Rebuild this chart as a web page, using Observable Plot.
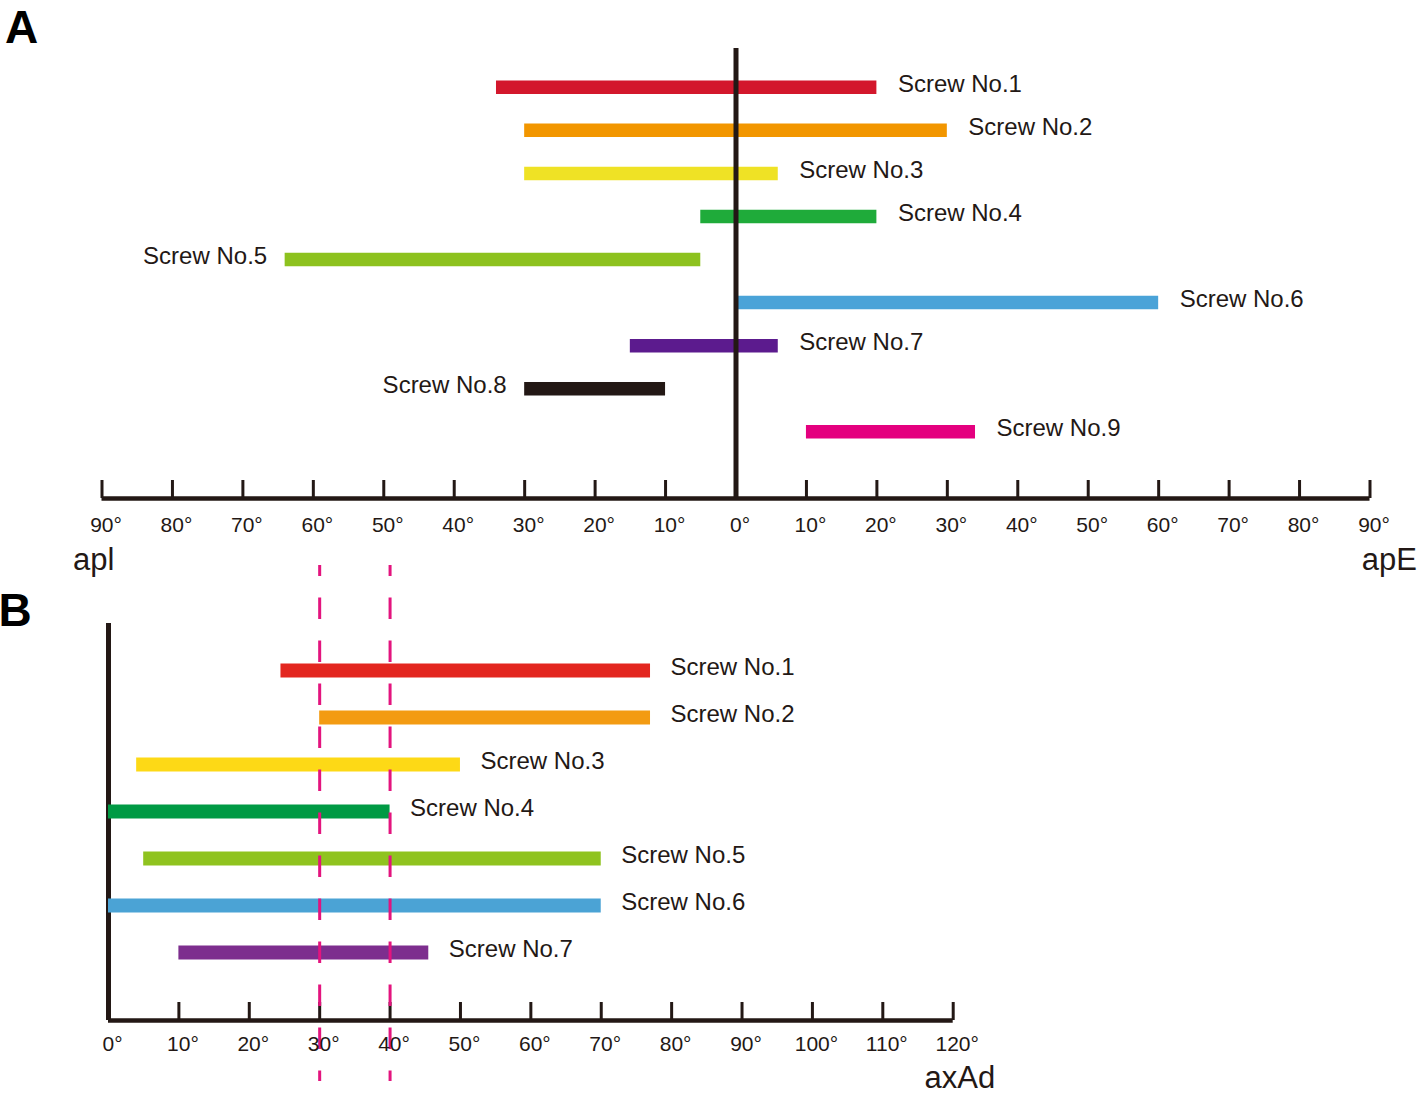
<!DOCTYPE html>
<html><head><meta charset="utf-8">
<script src="https://cdn.jsdelivr.net/npm/d3@7"></script>
<script src="https://cdn.jsdelivr.net/npm/@observablehq/plot@0.6"></script>
<style>
html,body{margin:0;padding:0;background:#fff;}
#wrap{position:relative;width:1418px;height:1093px;overflow:hidden;background:#fff;}
#wrap svg{position:absolute;left:0;}
</style></head><body><div id="wrap"></div>
<script>
// ---------- Panel A data (apl negative, apE positive, degrees) ----------
const screwsA = ["Screw No.1","Screw No.2","Screw No.3","Screw No.4","Screw No.5","Screw No.6","Screw No.7","Screw No.8","Screw No.9"];
const startA = [-34, -30, -30, -5, -64, 0, -15, -30, 10];
const endA   = [ 20,  30,   6, 20,  -5, 60,   6, -10, 34];
const leftLabelledA = ["Screw No.5", "Screw No.8"];
const ticksA = d3.range(-90, 91, 10);
const paletteA = ["#d3172c","#f29600","#efe225","#1fab3a","#8dc21f","#4aa3d8","#5c1b8e","#231815","#e4007f"];

// ---------- Panel B data (axAd, degrees) ----------
const screwsB = ["Screw No.1","Screw No.2","Screw No.3","Screw No.4","Screw No.5","Screw No.6","Screw No.7"];
const startB = [24.5, 30,  4,  0,  5,  0, 10];
const endB   = [77,   77, 50, 40, 70, 70, 45.5];
const ticksB = d3.range(0, 121, 10);
const refLinesB = [30, 40];
const paletteB = ["#e3261f","#f39b12","#fdd916","#009a44","#8fc31f","#4ba3d5","#7d2e8e"];

const ink = "#231815";
const font = "'Liberation Sans', Arial, Helvetica, sans-serif";
const wrap = document.getElementById("wrap");

// ---------- Panel A ----------
const rowsA = screwsA.map((name, i) => ({name, row: i + 1, start: startA[i], end: endA[i], left: leftLabelledA.includes(name)}));
const yDomA = [0.1, 10.55];
const frameHA = 580 - 48 - 82;

const plotA = Plot.plot({
  width: 1418, height: 580,
  marginLeft: 101.5, marginRight: 48.5, marginTop: 48, marginBottom: 82,
  style: {fontFamily: font, background: "transparent", overflow: "visible", color: ink},
  x: {domain: [-90, 90], axis: null},
  y: {domain: yDomA, reverse: true, axis: null},
  color: {domain: screwsA, range: paletteA},
  marks: [
    Plot.ruleY(rowsA, {y: "row", x1: "start", x2: "end", stroke: "name", strokeWidth: 13.5}),
    Plot.ruleX([0], {stroke: ink, strokeWidth: 5}),
    Plot.ruleY([yDomA[1]], {stroke: ink, strokeWidth: 4.5}),
    Plot.ruleX(ticksA, {x: d => d, stroke: ink, strokeWidth: 3, insetTop: frameHA - 18}),
    Plot.text(rowsA.filter(d => !d.left), {x: "end", y: "row", text: "name", textAnchor: "start", dx: 21, dy: -3, fontSize: 24, fill: ink}),
    Plot.text(rowsA.filter(d => d.left), {x: "start", y: "row", text: "name", textAnchor: "end", dx: -18, dy: -3, fontSize: 24, fill: ink}),
    Plot.axisX({ticks: ticksA, tickFormat: d => Math.abs(d) + "°", tickSize: 0, tickPadding: 19, fontSize: 21, dx: 4, fill: ink, label: null}),
    Plot.text(["apl"], {text: d => d, frameAnchor: "bottom-left", dx: -29, dy: 71, textAnchor: "start", lineAnchor: "bottom", fontSize: 31, fill: ink}),
    Plot.text(["apE"], {text: d => d, frameAnchor: "bottom-right", dx: 47, dy: 71, textAnchor: "end", lineAnchor: "bottom", fontSize: 31, fill: ink}),
    Plot.text(["A"], {text: d => d, frameAnchor: "top-left", dx: -97, dy: -6, textAnchor: "start", lineAnchor: "bottom", fontSize: 46, fontWeight: "bold", fill: "#000"})
  ]
});
plotA.style.top = "0px";
wrap.appendChild(plotA);

// ---------- Panel B ----------
const rowsB = screwsB.map((name, i) => ({name, row: i + 1, start: startB[i], end: endB[i]}));
const frameHB = 548 - 78 - 73;
const yDomB = [0, frameHB / 47];

const plotB = Plot.plot({
  width: 1418, height: 548,
  marginLeft: 108, marginRight: 465.3, marginTop: 78, marginBottom: 73,
  style: {fontFamily: font, background: "transparent", overflow: "visible", color: ink},
  x: {domain: [0, 120], axis: null},
  y: {domain: yDomB, reverse: true, axis: null},
  color: {domain: screwsB, range: paletteB},
  marks: [
    Plot.ruleX([0], {stroke: ink, strokeWidth: 5}),
    Plot.ruleY([yDomB[1]], {stroke: ink, strokeWidth: 4.5}),
    Plot.ruleX(ticksB, {x: d => d, stroke: ink, strokeWidth: 3, insetTop: frameHB - 18}),
    Plot.ruleY(rowsB, {y: "row", x1: "start", x2: "end", stroke: "name", strokeWidth: 14}),
    Plot.ruleX(refLinesB, {x: d => d, stroke: "#e3147e", strokeWidth: 3, strokeDasharray: "21.5,21.5", strokeDashoffset: 10.5, insetTop: -58, insetBottom: -61}),
    Plot.text(rowsB, {x: "end", y: "row", text: "name", textAnchor: "start", dx: 20, dy: -3, fontSize: 24, fill: ink}),
    Plot.axisX({ticks: ticksB, tickFormat: d => d + "°", tickSize: 0, tickPadding: 16, fontSize: 21, dx: 4, fill: ink, label: null}),
    Plot.text(["axAd"], {text: d => d, frameAnchor: "bottom-right", dx: 42, dy: 67, textAnchor: "end", lineAnchor: "bottom", fontSize: 31, fill: ink}),
    Plot.text(["B"], {text: d => d, frameAnchor: "top-left", dx: -110, dy: 2, textAnchor: "start", lineAnchor: "bottom", fontSize: 46, fontWeight: "bold", fill: "#000"})
  ]
});
plotB.style.top = "545px";
wrap.appendChild(plotB);
</script>
</body></html>
